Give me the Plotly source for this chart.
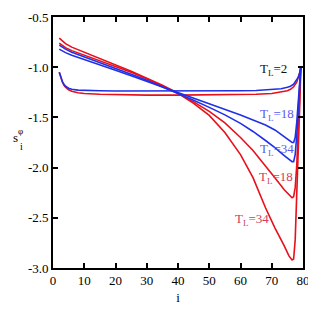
import plotly.graph_objects as go

# ---- data ----
i_main = [2, 3, 4, 6, 10, 15, 20, 25, 30, 35, 40, 45, 50, 55, 60, 64, 68, 71, 74,
          75.5, 76.5, 77, 77.5, 78, 78.5, 79, 79.3]
s_red34 = [-0.71, -0.74, -0.765, -0.80, -0.85, -0.91, -0.975, -1.04, -1.11, -1.18, -1.26,
           -1.36, -1.48, -1.65, -1.87, -2.10, -2.40, -2.60, -2.78, -2.88, -2.92, -2.91,
           -2.72, -2.32, -1.85, -1.35, -1.0]
s_red18 = [-0.76, -0.785, -0.805, -0.835, -0.88, -0.935, -0.99, -1.05, -1.115, -1.185, -1.26,
           -1.345, -1.44, -1.555, -1.70, -1.83, -1.98, -2.10, -2.22, -2.27, -2.30, -2.29,
           -2.20, -1.98, -1.65, -1.28, -1.0]
s_blue34 = [-0.78, -0.80, -0.82, -0.85, -0.895, -0.95, -1.01, -1.07, -1.13, -1.195, -1.26,
            -1.33, -1.40, -1.475, -1.56, -1.64, -1.73, -1.80, -1.88, -1.915, -1.94, -1.94,
            -1.87, -1.68, -1.43, -1.18, -1.0]
s_blue18 = [-0.82, -0.84, -0.855, -0.88, -0.925, -0.975, -1.03, -1.085, -1.14, -1.195, -1.25,
            -1.305, -1.36, -1.415, -1.475, -1.525, -1.575, -1.625, -1.69, -1.725, -1.75, -1.75,
            -1.70, -1.55, -1.35, -1.15, -1.0]

i_flat = [2, 2.5, 3, 3.5, 4, 5, 6, 8, 10, 15, 20, 30, 40, 50, 60, 65, 70, 73, 75, 76,
          77, 78, 78.5, 79, 79.3]
s_blue2 = [-1.05, -1.10, -1.14, -1.17, -1.19, -1.21, -1.22, -1.228, -1.232, -1.235, -1.237,
           -1.238, -1.238, -1.237, -1.235, -1.232, -1.225, -1.215, -1.20, -1.19, -1.17,
           -1.13, -1.10, -1.05, -1.0]
s_red2 = [-1.05, -1.11, -1.15, -1.18, -1.20, -1.225, -1.24, -1.255, -1.262, -1.27, -1.275,
          -1.278, -1.278, -1.277, -1.275, -1.27, -1.262, -1.25, -1.235, -1.22, -1.195,
          -1.15, -1.11, -1.05, -1.0]

x_ticks = [0, 10, 20, 30, 40, 50, 60, 70, 80]
y_ticks = [-3.0, -2.5, -2.0, -1.5, -1.0, -0.5]
y_ticktext = ["-3.0", "-2.5", "-2.0", "-1.5", "-1.0", "-0.5"]

labels = [
    ("T<sub>L</sub>=2", 70.4, -1.02, "#111111"),
    ("T<sub>L</sub>=18", 71.6, -1.47, "#5a5af0"),
    ("T<sub>L</sub>=34", 71.8, -1.82, "#5a5af0"),
    ("T<sub>L</sub>=18", 71.4, -2.10, "#d0405a"),
    ("T<sub>L</sub>=34", 63.8, -2.52, "#d0405a"),
]

RED = "#e8101a"
BLUE = "#2030e8"
FONT = "Liberation Serif"

fig = go.Figure()
for xs, ys, c, name in [
    (i_flat, s_red2, RED, "red T_L=2"),
    (i_main, s_red18, RED, "red T_L=18"),
    (i_main, s_red34, RED, "red T_L=34"),
    (i_flat, s_blue2, BLUE, "blue T_L=2"),
    (i_main, s_blue18, BLUE, "blue T_L=18"),
    (i_main, s_blue34, BLUE, "blue T_L=34"),
]:
    fig.add_trace(go.Scatter(x=xs, y=ys, mode="lines", name=name,
                             line=dict(color=c, width=1.6), showlegend=False))

for text, x, y, c in labels:
    fig.add_annotation(x=x, y=y, text=text, showarrow=False,
                       font=dict(family=FONT, size=13, color=c),
                       xanchor="center", yanchor="middle")

# page has an 8px body margin; target plot box in page pixels: x 53..303, y 17..268
W, H = 308, 301
L, R, T, B = 45, 13, 9, 41
PX0, PX1, PY0, PY1 = 53, 303, 17, 268


def px2paper(px, py):
    return (px - PX0) / (PX1 - PX0), (PY1 - py) / (PY1 - PY0)


# y axis title: s with superscript phi and subscript i
for txt, px, py, sz in [("s", 15, 137, 13), ("φ", 20, 131, 9), ("i", 21, 146, 10)]:
    xp, yp = px2paper(px, py)
    fig.add_annotation(x=xp, y=yp, xref="paper", yref="paper", text=txt,
                       showarrow=False, xanchor="center", yanchor="middle",
                       font=dict(family=FONT, size=sz, color="black"))

axis_common = dict(showline=True, linecolor="black", linewidth=1.6, mirror="ticks",
                   ticks="inside", ticklen=5, tickwidth=1.6, tickcolor="black",
                   showgrid=False, zeroline=False, automargin=False,
                   tickfont=dict(family=FONT, size=13, color="black"))

fig.update_xaxes(range=[0, 80], tickvals=x_ticks, title=dict(text="i", standoff=5,
                 font=dict(family=FONT, size=13, color="black")), **axis_common)
fig.update_yaxes(range=[-3.0, -0.5], tickvals=y_ticks, ticktext=y_ticktext, **axis_common)

fig.update_layout(template="none", width=W, height=H,
                  margin=dict(l=L, r=R, t=T, b=B, autoexpand=False),
                  plot_bgcolor="white", paper_bgcolor="white",
                  font=dict(family=FONT, size=13, color="black"))

fig.write_html("out.html")
